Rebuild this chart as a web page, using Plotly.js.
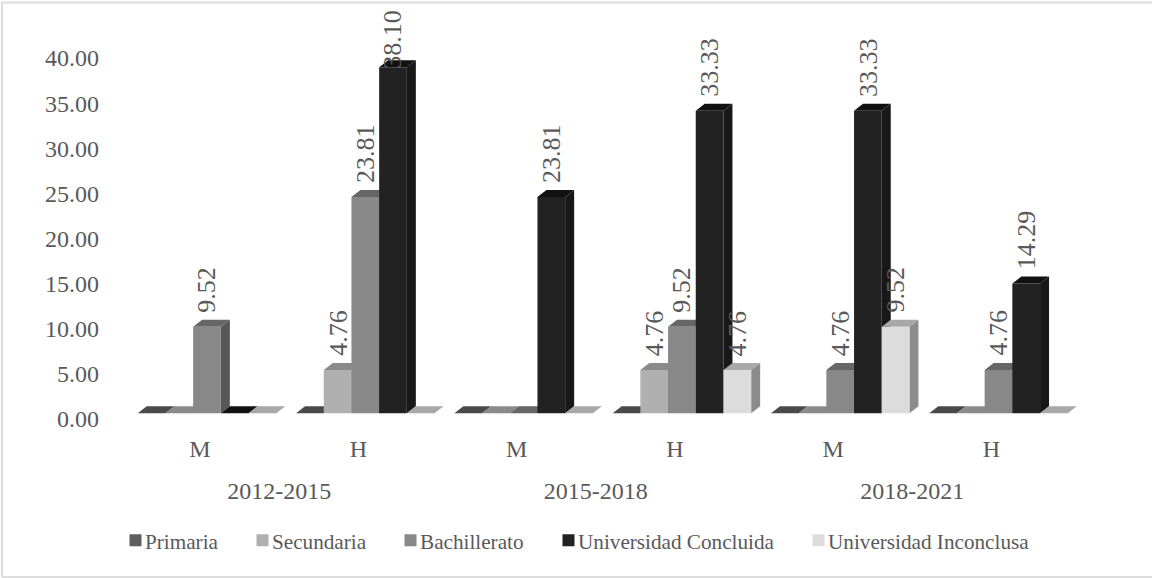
<!DOCTYPE html>
<html>
<head>
<meta charset="utf-8">
<script src="https://cdn.plot.ly/plotly-3.0.1.min.js"></script>
<style>
html,body{margin:0;padding:0;background:#fff;}
#chart{position:absolute;left:0;top:0;width:1152px;height:578px;}
/* Tighter gap between each legend swatch and its text */
#chart text.legendtext,#chart text.legend2text,#chart text.legend3text,#chart text.legend4text,#chart text.legend5text{transform:translateX(-10.5px);}
</style>
</head>
<body>
<div id="chart"></div>
<script>
// Education level of officeholders by term and sex (percentages)
const periods = ['2012-2015', '2015-2018', '2018-2021'];
const sexes = ['M', 'H', 'M', 'H', 'M', 'H'];
const primaria = [0, 0, 0, 0, 0, 0];
const secundaria = [0, 4.76, 0, 4.76, 0, 0];
const bachillerato = [9.52, 23.81, 0, 9.52, 4.76, 4.76];
const concluida = [0, 38.10, 23.81, 33.33, 33.33, 14.29];
const inconclusa = [0, 0, 0, 4.76, 9.52, 0];
const yTicks = [0, 5, 10, 15, 20, 25, 30, 35, 40];

const series = [
  {name: 'Primaria', values: primaria, front: '#5f5f5f', top: '#4a4a4a', side: '#444444', legendLeft: 115.5},
  {name: 'Secundaria', values: secundaria, front: '#b0b0b0', top: '#8a8a8a', side: '#7d7d7d', legendLeft: 242.5},
  {name: 'Bachillerato', values: bachillerato, front: '#888888', top: '#666666', side: '#575757', legendLeft: 390.5},
  {name: 'Universidad Concluida', values: concluida, front: '#222222', top: '#111111', side: '#181818', legendLeft: 548.5},
  {name: 'Universidad Inconclusa', values: inconclusa, front: '#dcdcdc', top: '#a8a8a8', side: '#8c8c8c', legendLeft: 798.5}
];

// Pixel scale of the drawing area (the plot fills the whole figure)
const W = 1152, H = 578;
const catPitch = 158.3, valPitch = 9.08;
const barOrigin = 207, floorY = 413.3;
const barWidth = 0.175;
const depthX = 9 / catPitch, depthY = 7 / valPitch;
const xRange = [-barOrigin / catPitch, (W - barOrigin) / catPitch];
const yRange = [(floorY - H) / valPitch, floorY / valPitch];

const traces = [];

// Extruded top and side faces, painted left to right beneath the front faces
series.forEach((s, si) => {
  s.values.forEach((v, c) => {
    const x0 = c + (si - 2.5) * barWidth, x1 = x0 + barWidth;
    const faces = [
      {color: s.side, x: [x1, x1 + depthX, x1 + depthX, x1, x1], y: [0, depthY, v + depthY, v, 0], skip: v === 0},
      {color: s.top, x: [x0, x1, x1 + depthX, x0 + depthX, x0], y: [v, v, v + depthY, v + depthY, v], skip: false}
    ];
    faces.forEach(f => {
      if (f.skip) return;
      traces.push({type: 'scatter', mode: 'lines', x: f.x, y: f.y, fill: 'toself', fillcolor: f.color,
        line: {width: 0, color: f.color}, hoverinfo: 'skip', showlegend: false, xaxis: 'x', yaxis: 'y'});
    });
  });
});

// Front faces, each with its own legend box so the entries can be spaced freely
series.forEach((s, si) => {
  traces.push({type: 'bar', name: s.name, x: sexes.map((_, i) => i), y: s.values,
    marker: {color: s.front, line: {width: 0}}, xaxis: 'x2', yaxis: 'y2', hoverinfo: 'x+y+name',
    legend: si === 0 ? 'legend' : 'legend' + (si + 1)});
});

// Carriers for the axes that only hold labels
traces.push({type: 'scatter', mode: 'none', x: sexes.map((_, i) => i), y: sexes.map(() => 0),
  xaxis: 'x3', yaxis: 'y3', showlegend: false, hoverinfo: 'skip'});
traces.push({type: 'scatter', mode: 'none', x: periods.map((_, i) => i * 2 + 0.5), y: periods.map(() => 0),
  xaxis: 'x4', yaxis: 'y3', showlegend: false, hoverinfo: 'skip'});

// Value labels rotated along the bars
const textColor = '#595959';
const serif = 'Liberation Serif';
const annotations = [];
series.forEach((s, si) => {
  s.values.forEach((v, c) => {
    if (v <= 0) return;
    annotations.push({xref: 'x', yref: 'y', x: c + (si - 2) * barWidth, y: v, text: v.toFixed(2),
      textangle: -90, showarrow: false, yanchor: 'bottom', xanchor: 'center',
      yshift: v > 35 ? -2 : 14, font: {family: serif, size: 26, color: textColor}, borderpad: 0, borderwidth: 0});
  });
});

const hidden = {showgrid: false, zeroline: false, showline: false, ticks: '', showticklabels: false, fixedrange: true};
const labelRange = [-200 / catPitch, (W - 200) / catPitch];
const tickValScale = 9.025, tickZero = 419;

const layout = {
  width: W, height: H,
  margin: {l: 0, r: 0, t: 0, b: 0, pad: 0},
  paper_bgcolor: '#ffffff', plot_bgcolor: 'rgba(0,0,0,0)',
  barmode: 'group', bargap: 0.125, bargroupgap: 0,
  font: {family: serif, color: textColor, size: 21},
  showlegend: true,
  xaxis: Object.assign({}, hidden, {range: xRange, domain: [0, 1]}),
  yaxis: Object.assign({}, hidden, {range: yRange, domain: [0, 1]}),
  xaxis2: Object.assign({}, hidden, {range: xRange, overlaying: 'x', anchor: 'y2'}),
  yaxis2: Object.assign({}, hidden, {range: yRange, overlaying: 'y', anchor: 'x2'}),
  xaxis3: Object.assign({}, hidden, {range: labelRange, overlaying: 'x', anchor: 'free', position: (H - 432) / H,
    showticklabels: true, tickmode: 'array', tickvals: sexes.map((_, i) => i), ticktext: sexes,
    tickfont: {family: serif, size: 24, color: textColor}}),
  xaxis4: Object.assign({}, hidden, {range: labelRange, overlaying: 'x', anchor: 'free', position: (H - 474) / H,
    showticklabels: true, tickmode: 'array', tickvals: periods.map((_, i) => i * 2 + 0.5), ticktext: periods,
    tickfont: {family: serif, size: 24, color: textColor}}),
  yaxis3: Object.assign({}, hidden, {range: [(tickZero - H) / tickValScale, tickZero / tickValScale], overlaying: 'y',
    anchor: 'free', position: 99 / W, showticklabels: true, tickmode: 'array', tickvals: yTicks,
    ticktext: yTicks.map(t => t.toFixed(2)), tickfont: {family: serif, size: 24, color: textColor}}),
  annotations: annotations,
  // Chart frame: left, top and bottom rules
  shapes: [
    {type: 'line', xref: 'paper', yref: 'paper', x0: 2 / W, x1: 2 / W, y0: 1 - 2 / H, y1: 1 - 577 / H, line: {color: '#dcdcdc', width: 2}, layer: 'below'},
    {type: 'line', xref: 'paper', yref: 'paper', x0: 2 / W, x1: 1, y0: 1 - 2.5 / H, y1: 1 - 2.5 / H, line: {color: '#dcdcdc', width: 2}, layer: 'below'},
    {type: 'line', xref: 'paper', yref: 'paper', x0: 2 / W, x1: 1, y0: 1 - 577 / H, y1: 1 - 577 / H, line: {color: '#dcdcdc', width: 2}, layer: 'below'}
  ]
};

// One legend box per series along a shared baseline
series.forEach((s, si) => {
  layout[si === 0 ? 'legend' : 'legend' + (si + 1)] = {
    orientation: 'h', x: s.legendLeft / W, xanchor: 'left', y: (H - 540.5) / H, yanchor: 'middle',
    font: {family: serif, size: 21.2, color: textColor}, bgcolor: 'rgba(0,0,0,0)'
  };
});

Plotly.newPlot('chart', traces, layout, {displayModeBar: false, responsive: false});
</script>
</body>
</html>
